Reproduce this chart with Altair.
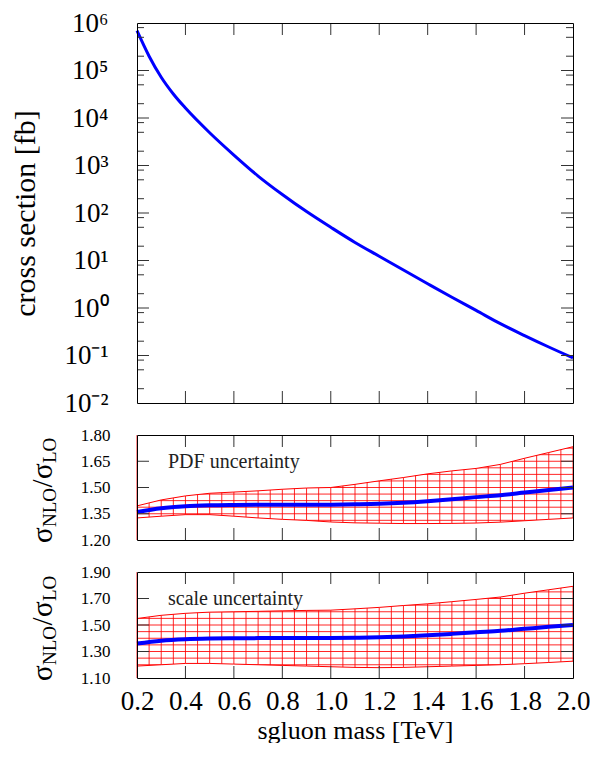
import altair as alt
import numpy as np
import pandas as pd

# ---------------- data ----------------
mass_top = [0.2, 0.25, 0.3, 0.35, 0.4, 0.5, 0.6, 0.7, 0.8, 0.9, 1.0, 1.1, 1.2, 1.3, 1.4,
            1.5, 1.6, 1.7, 1.8, 1.9, 2.0]
xsec_fb = [6.9e5, 2.0e5, 7.2e4, 3.2e4, 1.62e4, 4.9e3, 1.66e3, 600, 245, 107, 50, 24.0,
           12.3, 6.3, 3.24, 1.68, 0.89, 0.468, 0.263, 0.151, 0.089]

mass = [0.2, 0.3, 0.4, 0.5, 0.6, 0.7, 0.8, 0.9, 1.0, 1.1, 1.2, 1.3, 1.4, 1.5, 1.6, 1.7, 1.8, 1.9, 2.0]
k_central = [1.360, 1.382, 1.393, 1.398, 1.400, 1.401, 1.401, 1.401, 1.402, 1.404, 1.407,
             1.413, 1.422, 1.433, 1.445, 1.456, 1.471, 1.486, 1.500]
pdf_up = [1.395, 1.429, 1.452, 1.467, 1.474, 1.481, 1.490, 1.497, 1.500, 1.518, 1.538,
          1.557, 1.578, 1.595, 1.609, 1.632, 1.667, 1.700, 1.733]
pdf_lo = [1.326, 1.336, 1.345, 1.345, 1.336, 1.326, 1.318, 1.312, 1.303, 1.298, 1.296,
          1.294, 1.294, 1.295, 1.297, 1.302, 1.310, 1.318, 1.326]
scale_up = [1.549, 1.573, 1.588, 1.597, 1.600, 1.603, 1.607, 1.610, 1.612, 1.622, 1.633,
            1.647, 1.660, 1.676, 1.693, 1.711, 1.740, 1.766, 1.792]
scale_lo = [1.190, 1.200, 1.210, 1.210, 1.205, 1.200, 1.195, 1.190, 1.185, 1.180, 1.178,
            1.180, 1.185, 1.190, 1.195, 1.200, 1.208, 1.217, 1.227]

x_ticks = [0.2, 0.4, 0.6, 0.8, 1.0, 1.2, 1.4, 1.6, 1.8, 2.0]
decades = [-2, -1, 0, 1, 2, 3, 4, 5, 6]
pdf_ticks = [1.20, 1.35, 1.50, 1.65, 1.80]
scale_ticks = [1.10, 1.30, 1.50, 1.70, 1.90]

# ---------------- style ----------------
FONT = "Liberation Serif"
W = 436
H_TOP, H_MID, H_BOT = 380, 105, 106
GAP = 32
TICK, MINOR = 12, 7
TC = "#333333"
RED = "#ff0000"
BLUE = "#0000ff"

xs = alt.Scale(domain=[0.2, 2.0], nice=False, zero=False)


def hidden_axis(orient):
    return alt.Axis(orient=orient, labels=False, ticks=False, domain=True, grid=False,
                    title=None, zindex=1)


def x_tick_layers(H):
    d = pd.DataFrame({"m": x_ticks[1:-1]})
    top = alt.Chart(d).mark_rule(color=TC, strokeWidth=1).encode(
        x=alt.X("m:Q", scale=xs, axis=hidden_axis("top")),
        y=alt.value(0), y2=alt.value(TICK))
    bot = alt.Chart(d).mark_rule(color=TC, strokeWidth=1).encode(
        x=alt.X("m:Q", scale=xs, axis=None),
        y=alt.value(H - TICK), y2=alt.value(H))
    return [top, bot]


def y_tick_layers(vals, ys, length, right_axis):
    d = pd.DataFrame({"v": vals})
    left = alt.Chart(d).mark_rule(color=TC, strokeWidth=1).encode(
        y=alt.Y("v:Q", scale=ys, axis=None),
        x=alt.value(0), x2=alt.value(length))
    right = alt.Chart(d).mark_rule(color=TC, strokeWidth=1).encode(
        y=alt.Y("v:Q", scale=ys, axis=hidden_axis("right") if right_axis else None),
        x=alt.value(W - length), x2=alt.value(W))
    return [left, right]


# ---------------- top panel ----------------
sup = str.maketrans("-0123456789", "⁻⁰¹²³⁴⁵⁶⁷⁸⁹")
dec_labels = ["10" + str(d).translate(sup) for d in decades]
expr = "''"
for d, lab in reversed(list(zip(decades, dec_labels))):
    expr = f"datum.value < {10.0 ** (d + 0.5)} ? '{lab}' : ({expr})"

ys_top = alt.Scale(type="log", domain=[1e-2, 1e6], nice=False)
df_top = pd.DataFrame({"mass": mass_top, "xsec": xsec_fb})

curve = alt.Chart(df_top).mark_line(color=BLUE, strokeWidth=3, interpolate="monotone").encode(
    x=alt.X("mass:Q", scale=xs, axis=hidden_axis("bottom")),
    y=alt.Y("xsec:Q", scale=ys_top, axis=alt.Axis(
        orient="left", values=[10.0 ** d for d in decades], labelExpr=expr,
        ticks=False, grid=False, domain=True, labelFontSize=27, labelPadding=29,
        labelOverlap=False, labelFlush=False,
        title="cross section [fb]", titleFontSize=30, titleFontWeight="normal",
        titleX=-97, titleY=H_TOP / 2, zindex=1)))

major_vals = [10.0 ** d for d in decades[1:-1]]
minor_vals = [m * 10.0 ** d for d in decades[:-1] for m in (2, 5, 8)]

top_panel = alt.layer(
    curve, *x_tick_layers(H_TOP),
    *y_tick_layers(major_vals, ys_top, TICK, True),
    *y_tick_layers(minor_vals, ys_top, MINOR, False),
).resolve_axis(x="independent", y="independent").properties(width=W, height=H_TOP)


# ---------------- ratio panels ----------------
def ratio_panel(up, lo, ticks, hstep, H, label, show_x):
    ymin, ymax = ticks[0], ticks[-1]
    ys = alt.Scale(domain=[ymin, ymax], nice=False, zero=False)
    df = pd.DataFrame({"mass": mass, "up": up, "lo": lo, "c": k_central})
    base = alt.Chart(df)

    vgrid_vals = list(np.round(np.arange(0.2, 2.0001, 0.05), 4))
    hgrid_vals = list(np.round(np.arange(ymin + hstep, ymax - 1e-6, hstep), 4))
    vgrid = alt.Chart(pd.DataFrame({"g": vgrid_vals})).mark_rule(
        color=RED, strokeWidth=1, opacity=0.85).encode(
        x=alt.X("g:Q", scale=xs, axis=None), y=alt.value(0), y2=alt.value(H))
    hgrid = alt.Chart(pd.DataFrame({"g": hgrid_vals})).mark_rule(
        color=RED, strokeWidth=1, opacity=0.85).encode(
        y=alt.Y("g:Q", scale=ys, axis=None), x=alt.value(0), x2=alt.value(W))

    if show_x:
        xaxis = alt.Axis(orient="bottom", values=x_ticks, format=".1f", ticks=False,
                         grid=False, domain=True, labelFontSize=27, labelPadding=10,
                         labelOverlap=False, labelFlush=False,
                         title="sgluon mass [TeV]", titleFontSize=26,
                         titleFontWeight="normal", titleX=W / 2, titleY=39, zindex=1)
    else:
        xaxis = hidden_axis("bottom")
    yaxis = alt.Axis(orient="left", values=ticks, format=".2f", ticks=False, grid=False,
                     domain=True, labelFontSize=17, labelPadding=27, labelOverlap=False,
                     labelFlush=False, title=None, zindex=1)

    mask_top = base.mark_area(color="white", opacity=1).encode(
        x=alt.X("mass:Q", scale=xs, axis=xaxis),
        y=alt.Y("up:Q", scale=ys, axis=yaxis), y2=alt.datum(ymax))
    mask_bot = base.mark_area(color="white", opacity=1).encode(
        x=alt.X("mass:Q", scale=xs, axis=None),
        y=alt.Y("lo:Q", scale=ys, axis=None), y2=alt.datum(ymin))
    up_line = base.mark_line(color=RED, strokeWidth=1).encode(
        x=alt.X("mass:Q", scale=xs, axis=None), y=alt.Y("up:Q", scale=ys, axis=None))
    lo_line = base.mark_line(color=RED, strokeWidth=1).encode(
        x=alt.X("mass:Q", scale=xs, axis=None), y=alt.Y("lo:Q", scale=ys, axis=None))
    c_line = base.mark_line(color=BLUE, strokeWidth=4, interpolate="monotone").encode(
        x=alt.X("mass:Q", scale=xs, axis=None), y=alt.Y("c:Q", scale=ys, axis=None))

    txt = alt.Chart(pd.DataFrame({"t": [label]})).mark_text(
        align="left", baseline="middle", font=FONT, fontSize=20, color="#222").encode(
        text="t:N", x=alt.value(31), y=alt.value(27))

    # rotated y title: sigma_NLO / sigma_LO
    pieces = [("σ", 29, 0, 16.0), ("NLO", 19, 4, 39.5), ("/", 29, 0, 8.5),
              ("σ", 29, 0, 16.0), ("LO", 19, 4, 25.5)]
    ypos = H + 3
    title_layers = []
    for t, fs, shift, w in pieces:
        title_layers.append(
            alt.Chart(pd.DataFrame({"t": [t]})).mark_text(
                align="left", baseline="alphabetic", angle=270, font=FONT,
                fontSize=fs, color="black").encode(
                text="t:N", x=alt.value(-85 + shift), y=alt.value(ypos)))
        ypos -= w

    return alt.layer(
        vgrid, hgrid, mask_top, mask_bot, up_line, lo_line, c_line, txt, *title_layers,
        *x_tick_layers(H), *y_tick_layers(ticks[1:-1], ys, TICK, True),
    ).resolve_axis(x="independent", y="independent").properties(width=W, height=H)


mid_panel = ratio_panel(pdf_up, pdf_lo, pdf_ticks, 0.0375, H_MID, "PDF uncertainty", False)
bot_panel = ratio_panel(scale_up, scale_lo, scale_ticks, 0.05, H_BOT, "scale uncertainty", True)

chart = alt.vconcat(top_panel, mid_panel, bot_panel, spacing=GAP, bounds="flush").properties(
    padding={"left": 2, "top": 1, "right": 0, "bottom": 0}
).configure_view(stroke=None).configure_axis(
    labelFont=FONT, titleFont=FONT, labelColor="black", titleColor="black",
    domainColor="black", domainWidth=1
).configure_text(font=FONT)

chart.save("out.html", embed_options={"renderer": "svg", "actions": False})
